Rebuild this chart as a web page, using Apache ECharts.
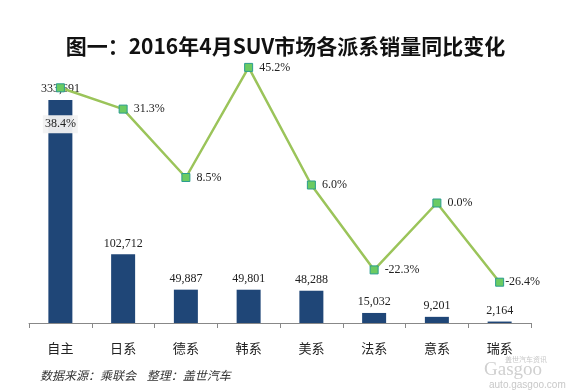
<!DOCTYPE html>
<html>
<head>
<meta charset="utf-8">
<script src="https://cdn.jsdelivr.net/npm/echarts@6/dist/echarts.min.js"></script>
<style>
html,body{margin:0;padding:0;background:#fff;}
#main{width:571px;height:390px;}
</style>
</head>
<body>
<div id="main"></div>
<script>
const categories = ['自主', '日系', '德系', '韩系', '美系', '法系', '意系', '瑞系'];
const salesValues = [333691, 102712, 49887, 49801, 48288, 15032, 9201, 2164];
const yoyValues = [38.4, 31.3, 8.5, 45.2, 6.0, -22.3, 0.0, -26.4];

const chart = echarts.init(document.getElementById('main'));
const serif = '"Liberation Serif", "Times New Roman", serif';
const cjk = '"Noto Sans CJK SC", "Noto Sans", sans-serif';

const lineData = yoyValues.map((v, i) => {
  if (i === 0) {
    return {
      value: v,
      label: {
        position: 'bottom', distance: 23,
        backgroundColor: 'rgba(242,242,242,0.95)', padding: [3, 2]
      }
    };
  }
  if (i === yoyValues.length - 1) {
    return { value: v, label: { distance: 1 } };
  }
  return v;
});

chart.setOption({
  animation: false,
  backgroundColor: '#ffffff',
  title: {
    text: '图一：2016年4月SUV市场各派系销量同比变化',
    left: 'center', top: 31,
    textStyle: { fontFamily: cjk, fontSize: 21, fontWeight: 'bold', color: '#111' }
  },
  grid: { left: 29, right: 40, top: 53, bottom: 67 },
  xAxis: {
    type: 'category',
    data: categories,
    boundaryGap: true,
    axisLine: { show: true, lineStyle: { color: '#888', width: 1 } },
    axisTick: { show: true, alignWithLabel: false, length: 5, lineStyle: { color: '#888' } },
    axisLabel: { fontFamily: cjk, fontSize: 13, color: '#222', margin: 19 }
  },
  yAxis: [
    { type: 'value', min: 0, max: 404000, show: false, splitLine: { show: false } },
    { type: 'value', min: -40, max: 50, show: false, splitLine: { show: false } }
  ],
  series: [
    {
      type: 'bar',
      data: salesValues,
      barWidth: 24,
      itemStyle: { color: '#1F4677' },
      label: {
        show: true, position: 'top', distance: 5,
        fontFamily: serif, fontSize: 12, color: '#222',
        formatter: p => p.value.toLocaleString('en-US')
      }
    },
    {
      type: 'line',
      yAxisIndex: 1,
      data: lineData,
      symbol: 'rect',
      symbolSize: 8,
      lineStyle: { color: '#9BC45A', width: 2.5 },
      itemStyle: { color: '#6CCB62', borderColor: '#2A9D8F', borderWidth: 1 },
      label: {
        show: true, position: 'right', distance: 6,
        fontFamily: serif, fontSize: 12, color: '#222',
        formatter: p => p.value.toFixed(1) + '%'
      },
      z: 5
    }
  ],
  graphic: [
    {
      type: 'text', left: 40, top: 369,
      style: { text: '数据来源：乘联会    整理：盖世汽车', font: 'italic 12px ' + cjk, fill: '#333' }
    },
    {
      type: 'text', left: 505, top: 356,
      style: { text: '盖世汽车资讯', font: '7px ' + cjk, fill: '#c8c8c8' }
    },
    {
      type: 'text', left: 484, top: 361,
      style: { text: 'Gasgoo', font: '19px "Liberation Serif", serif', fill: '#d0d0d0' }
    },
    {
      type: 'text', left: 489, top: 380,
      style: { text: 'auto.gasgoo.com', font: '10px "Liberation Sans", sans-serif', fill: '#c8c8c8' }
    }
  ]
});
</script>
</body>
</html>
